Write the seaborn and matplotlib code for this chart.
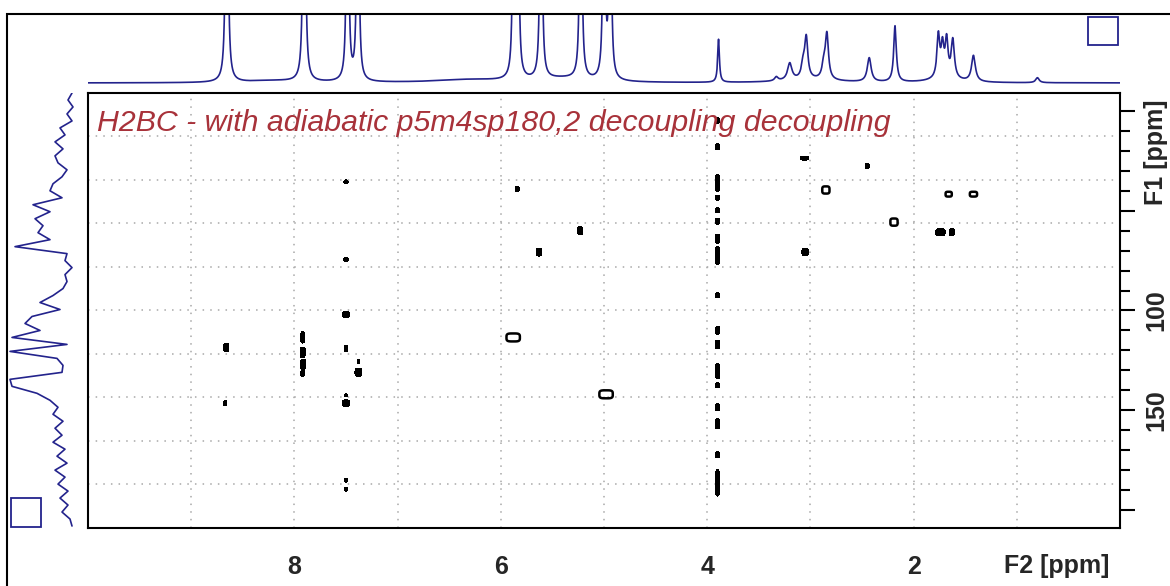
import numpy as np
import pandas as pd
import matplotlib
matplotlib.use("Agg")
import matplotlib.pyplot as plt
import seaborn as sns
from matplotlib.patches import Rectangle
from matplotlib.ticker import FixedLocator, MultipleLocator

# 1H projection (top trace): peak shifts [ppm], heights, half widths [ppm]
top_ppm = [8.655, 7.905, 7.485, 7.385, 5.875, 5.835, 5.61, 5.225, 5.00, 4.94,
           3.89, 3.33, 3.20, 3.07, 3.04, 2.87, 2.84, 2.43, 2.18,
           1.76, 1.72, 1.68, 1.62, 1.42, 0.80,
           8.2, 6.3, 5.4, 3.0, 1.7]
top_height = [650, 650, 500, 500, 400, 400, 500, 500, 450, 450,
              43, 4, 17, 14, 40, 14, 44, 24, 56,
              42, 30, 36, 38, 26, 5,
              2, 3, 4, 3, 4]
top_hwhm = [0.008, 0.008, 0.008, 0.008, 0.008, 0.008, 0.008, 0.008, 0.008, 0.008,
            0.010, 0.02, 0.025, 0.02, 0.018, 0.02, 0.018, 0.022, 0.015,
            0.016, 0.016, 0.016, 0.018, 0.022, 0.02,
            0.3, 0.4, 0.3, 0.3, 0.15]

# 13C projection (left trace), sampled from -9 to 208 ppm
left_int = [1, 5, 0, 6, 1, 13, 8, 18, 10, 18, 15, 6, 11, 20, 23, 11, 40, 23,
            38, 30, 35, 23, 58, 6, 8, 1, 8, 6, 10, 20, 33, 13, 41, 48, 33, 61,
            6, 63, 16, 10, 11, 63, 61, 36, 23, 15, 20, 10, 18, 11, 20, 8, 16,
            6, 18, 8, 15, 5, 13, 5, 11, 3, 1]
left_ppm = np.linspace(-9, 208, len(left_int))

# cross peaks: F2 (1H) and F1 (13C) shifts, half extents, outline-only flag
pk_h = [7.50, 5.84, 5.23, 5.63, 7.50, 7.50, 5.88, 8.66, 7.92, 7.92, 7.915, 7.92,
        7.50, 7.38, 7.38, 8.67, 7.50, 7.50, 4.98, 7.50, 7.50,
        3.90, 3.90, 3.90, 3.90, 3.90, 3.90, 3.90, 3.90, 3.90, 3.90, 3.90, 3.90,
        3.90, 3.90, 3.90, 3.90, 3.90,
        3.06, 2.45, 2.85, 1.66, 1.42, 2.19, 1.74, 1.63, 3.05]
pk_c = [35.6, 39.1, 60.0, 70.7, 74.6, 102.0, 113.5, 118.5, 113.5, 121.0, 127.0, 131.5,
        119.0, 125.5, 131.0, 146.5, 142.5, 146.5, 142.0, 185.0, 189.5,
        4.8, 18.0, 36.0, 43.5, 49.7, 55.3, 64.0, 72.4, 92.3, 110.0, 117.0, 130.5,
        137.5, 148.5, 156.8, 172.3, 186.4,
        23.6, 27.6, 39.6, 41.7, 41.7, 55.7, 60.7, 60.7, 70.7]
pk_wh = [0.020, 0.017, 0.025, 0.025, 0.020, 0.030, 0.065, 0.025, 0.018, 0.025, 0.025, 0.018,
         0.015, 0.013, 0.033, 0.015, 0.012, 0.032, 0.065, 0.013, 0.013,
         0.019, 0.019, 0.019, 0.019, 0.019, 0.019, 0.019, 0.019, 0.019, 0.019, 0.019, 0.019,
         0.019, 0.019, 0.019, 0.019, 0.019,
         0.040, 0.020, 0.035, 0.030, 0.035, 0.035, 0.045, 0.025, 0.032]
pk_wc = [1.0, 1.3, 2.0, 2.0, 1.0, 1.7, 2.0, 2.0, 2.8, 2.5, 2.5, 1.5,
         1.6, 0.9, 2.0, 1.3, 0.8, 1.7, 2.0, 1.0, 1.0,
         1.4, 1.5, 4.3, 1.2, 1.2, 1.5, 2.2, 4.7, 1.2, 2.0, 2.2, 3.8,
         1.2, 1.7, 2.5, 1.5, 6.6,
         1.0, 1.2, 1.8, 1.2, 1.2, 1.8, 1.7, 1.7, 1.8]
pk_ring = [0, 0, 0, 0, 0, 0, 1, 0, 0, 0, 0, 0,
           0, 0, 0, 0, 0, 0, 1, 0, 0,
           0, 0, 0, 0, 0, 0, 0, 0, 0, 0, 0, 0,
           0, 0, 0, 0, 0,
           0, 0, 1, 1, 1, 1, 0, 0, 0]

TITLE = "H2BC - with adiabatic p5m4sp180,2 decoupling decoupling"
NAVY = "#23238c"
TITLE_RED = "#a8323a"

sns.set_style("white")
plt.rcParams["font.family"] = ["Liberation Sans", "DejaVu Sans"]

W, H = 1170, 586
fig = plt.figure(figsize=(W / 100, H / 100), dpi=100)


def px_box(x0, y0, x1, y1):
    return [x0 / W, 1 - y1 / H, (x1 - x0) / W, (y1 - y0) / H]


ax = fig.add_axes(px_box(88, 93, 1120, 528))
ax_top = fig.add_axes(px_box(88, 14, 1120, 93))
ax_left = fig.add_axes(px_box(8, 93, 87, 528))

# 2D contour map
hh = np.linspace(0, 10, 2001)
cc = np.linspace(-9, 209, 873)
HH, CC = np.meshgrid(hh, cc)
fill = np.zeros_like(HH)
ring = np.zeros_like(HH)
for h, c, wh, wc, r in zip(pk_h, pk_c, pk_wh, pk_wc, pk_ring):
    f = np.exp(-((np.abs(HH - h) / wh) ** 4 + (np.abs(CC - c) / wc) ** 4))
    if r:
        ring += f
    else:
        fill += f
ax.contourf(HH, CC, fill, levels=[0.37, 10], colors="black", zorder=3)
ax.contour(HH, CC, ring, levels=[0.37], colors="black", linewidths=1.8, zorder=3)

# dotted grid
grid_kw = dict(color="#a8a8a8", lw=1.1, ls=(0, (1, 4)), zorder=1)
for gx in range(1, 10):
    ax.axvline(gx, **grid_kw)
for gy in 100 + 21.8 * np.arange(-4, 5):
    ax.axhline(gy, **grid_kw)

ax.set_xlim(10, 0)
ax.set_ylim(209, -9)
for s in ax.spines.values():
    s.set_linewidth(1.5)
    s.set_color("black")

ax.yaxis.tick_right()
ax.xaxis.set_major_locator(FixedLocator([10, 8, 6, 4, 2, 0]))
ax.xaxis.set_minor_locator(MultipleLocator(0.5))
ax.set_xticklabels(["", "8", "6", "4", "2", ""])
ax.yaxis.set_major_locator(FixedLocator([0, 50, 100, 150, 200]))
ax.yaxis.set_minor_locator(MultipleLocator(10))
ax.set_yticklabels(["", "", "100", "150", ""], rotation=90, va="center")
ax.tick_params(axis="both", which="major", direction="out", length=11, width=1.5,
               labelsize=18, color="black")
ax.tick_params(axis="both", which="minor", direction="out", length=7, width=1.5,
               color="black")
ax.tick_params(axis="x", which="major", pad=8.5)
ax.tick_params(axis="y", which="major", pad=6.5)
for lab in ax.get_xticklabels() + ax.get_yticklabels():
    lab.set_fontweight("bold")
ax.set_xlabel("")
ax.set_ylabel("")

# 1H projection on top
ppm = np.arange(0, 10.0005, 0.001)
inten = np.zeros_like(ppm)
for p, hgt, g in zip(top_ppm, top_height, top_hwhm):
    inten += hgt / (1 + ((ppm - p) / g) ** 2)
top_df = pd.DataFrame({"ppm": ppm, "I": inten})
sns.lineplot(data=top_df, x="ppm", y="I", ax=ax_top, color=NAVY, lw=1.2,
             estimator=None, sort=False)
ax_top.set_xlim(10, 0)
ax_top.set_ylim(-10, 69)
ax_top.axis("off")

# 13C projection on the left
left_df = pd.DataFrame({"ppm": left_ppm, "I": left_int})
sns.lineplot(data=left_df, x="I", y="ppm", ax=ax_left, color=NAVY, lw=1.2,
             estimator=None, sort=False, orient="y")
ax_left.set_xlim(65, -14)
ax_left.set_ylim(209, -9)
ax_left.axis("off")

# texts
fig.text(97 / W, 1 - 131 / H, TITLE, color=TITLE_RED, fontsize=21.8,
         fontstyle="italic", ha="left", va="baseline", zorder=5)
fig.text(1057 / W, 1 - 566 / H, "F2 [ppm]", fontsize=18, fontweight="bold",
         ha="center", va="center")
fig.text(1156 / W, 1 - 152 / H, "F1 [ppm]", fontsize=18, fontweight="bold",
         ha="center", va="center", rotation=90)

# frame and the two small boxes
fig.add_artist(Rectangle((7 / W, -0.1), 1.2, 1 - 14 / H + 0.1,
                         transform=fig.transFigure, fill=False, lw=1.5,
                         edgecolor="black"))
fig.add_artist(Rectangle((1088 / W, 1 - 45 / H), 30 / W, 28 / H,
                         transform=fig.transFigure, fill=False, lw=1.3,
                         edgecolor=NAVY))
fig.add_artist(Rectangle((11 / W, 1 - 527 / H), 30 / W, 29 / H,
                         transform=fig.transFigure, fill=False, lw=1.3,
                         edgecolor=NAVY))

fig.savefig("out.png", dpi=100)
